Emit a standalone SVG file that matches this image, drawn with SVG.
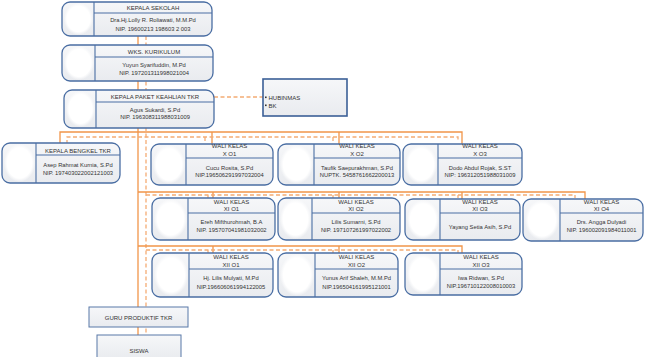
<svg xmlns="http://www.w3.org/2000/svg" width="645" height="357" viewBox="0 0 645 357">
<defs>
<linearGradient id="bg" x1="0" y1="0" x2="0" y2="1"><stop offset="0" stop-color="#f6f7f9"/><stop offset="1" stop-color="#e9ebef"/></linearGradient>
<radialGradient id="ph" cx="0.5" cy="0.5" r="0.5"><stop offset="0.8" stop-color="#ffffff"/><stop offset="1" stop-color="#ffffff" stop-opacity="0"/></radialGradient>
<style>
.box{fill:url(#bg);stroke:#4a6ea3;stroke-width:1.3}
.ph{fill:url(#ph)}
.dv{stroke:#4a6ea3;stroke-width:1.1}
.sq{fill:url(#bg);stroke:#5878a8;stroke-width:1}
.hb{fill:url(#bg);stroke:#3b5f97;stroke-width:1.6}
text{font-family:"Liberation Sans",Arial,sans-serif;fill:#333;text-anchor:middle}
.h{font-size:6px}
.t{font-size:5.8px}
.s{stroke:#f19549;stroke-width:1.3;fill:none}
.d{stroke:#f4ac74;stroke-width:1.3;fill:none;stroke-dasharray:4 2.5}
</style>
</defs>
<g id="connectors">
<path class="s" d="M138,36V335"/>
<path class="d" d="M146,36V335"/>
<path class="d" d="M214,97H263"/>
<path class="s" d="M60,144V132H462V144M212,132V144M339,132V144"/>
<path class="d" d="M67,144V137H458V141M205,137V141M333,137V141"/>
<path class="s" d="M138,192H585V199M213,192V198M339,192V198M462,192V199"/>
<path class="d" d="M146,195H575V198M208,195V198M333,195V198M458,195V198"/>
<path class="s" d="M138,246H462V253M213,246V253M339,246V253"/>
<path class="d" d="M146,250H458V253M208,250V253M333,250V253"/>
</g>
<g id="kepala-sekolah">
<rect class="box" x="62" y="2" width="150" height="34" rx="8"/>
<rect class="ph" x="64" y="3" width="29" height="32" rx="12"/>
<line class="dv" x1="94" y1="2" x2="94" y2="36"/><line class="dv" x1="94" y1="13" x2="212" y2="13"/>
<text class="h" x="153" y="9.5">KEPALA SEKOLAH</text>
<text class="t" x="153" y="22">Dra.Hj.Lolly R. Roliawati, M.M.Pd</text>
<text class="t" x="153" y="31">NIP. 19600213 198603 2 003</text>
</g>
<g id="wks-kurikulum">
<rect class="box" x="62" y="45" width="151" height="36" rx="8"/>
<rect class="ph" x="64" y="46" width="30" height="34" rx="12"/>
<line class="dv" x1="95" y1="45" x2="95" y2="81"/><line class="dv" x1="95" y1="57" x2="213" y2="57"/>
<text class="h" x="154" y="54">WKS. KURIKULUM</text>
<text class="t" x="154" y="67">Yuyun Syarifuddin, M.Pd</text>
<text class="t" x="154" y="75">NIP. 197201311998021004</text>
</g>
<g id="kepala-paket">
<rect class="box" x="64" y="90" width="150" height="38" rx="8"/>
<rect class="ph" x="66" y="91" width="29" height="36" rx="12"/>
<line class="dv" x1="96" y1="90" x2="96" y2="128"/><line class="dv" x1="96" y1="102" x2="214" y2="102"/>
<text class="h" x="155" y="99">KEPALA PAKET KEAHLIAN TKR</text>
<text class="t" x="155" y="112">Agus Sukardi, S.Pd</text>
<text class="t" x="155" y="119">NIP. 196308311988031009</text>
</g>
<g id="hubinmas">
<rect class="hb" x="263" y="79" width="84" height="37"/>
<rect x="265" y="96.5" width="1.6" height="1.6" fill="#333"/>
<rect x="265" y="104.5" width="1.6" height="1.6" fill="#333"/>
<text class="h" x="268.5" y="99.5" style="text-anchor:start">HUBINMAS</text>
<text class="h" x="268.5" y="107.5" style="text-anchor:start">BK</text>
</g>
<g id="kepala-bengkel">
<rect class="box" x="2" y="143" width="118" height="40" rx="8"/>
<rect class="ph" x="4" y="144" width="31" height="38" rx="13"/>
<line class="dv" x1="36" y1="143" x2="36" y2="183"/><line class="dv" x1="36" y1="155" x2="120" y2="155"/>
<text class="h" x="78" y="153">KEPALA BENGKEL TKR</text>
<text class="t" x="78" y="167">Asep Rahmat Kurnia, S.Pd</text>
<text class="t" x="78" y="175">NIP. 197403022002121003</text>
</g>
<g id="wali-x-o1">
<rect class="box" x="151" y="144" width="122" height="41" rx="8"/>
<rect class="ph" x="153" y="145" width="32" height="39" rx="14"/>
<line class="dv" x1="186" y1="144" x2="186" y2="185"/><line class="dv" x1="186" y1="158" x2="273" y2="158"/>
<text class="h" x="229.5" y="148">WALI KELAS</text><text class="h" x="229.5" y="156">X O1</text>
<text class="t" x="229.5" y="170">Cucu Rosita, S.Pd</text>
<text class="t" x="229.5" y="177">NIP.196506291997032004</text>
</g>
<g id="wali-x-o2">
<rect class="box" x="278" y="144" width="122" height="41" rx="8"/>
<rect class="ph" x="280" y="145" width="33" height="39" rx="14"/>
<line class="dv" x1="314" y1="144" x2="314" y2="185"/><line class="dv" x1="314" y1="158" x2="400" y2="158"/>
<text class="h" x="357" y="148">WALI KELAS</text><text class="h" x="357" y="156">X O2</text>
<text class="t" x="357" y="170">Taufik Saepurakhman, S.Pd</text>
<text class="t" x="357" y="177">NUPTK. 5458761662200013</text>
</g>
<g id="wali-x-o3">
<rect class="box" x="403" y="144" width="119" height="41" rx="8"/>
<rect class="ph" x="405" y="145" width="32" height="39" rx="14"/>
<line class="dv" x1="438" y1="144" x2="438" y2="185"/><line class="dv" x1="438" y1="158" x2="522" y2="158"/>
<text class="h" x="480" y="148">WALI KELAS</text><text class="h" x="480" y="156">X O3</text>
<text class="t" x="480" y="170">Dodo Abdul Rojak, S.ST</text>
<text class="t" x="480" y="177">NIP: 196312051988031009</text>
</g>
<g id="wali-xi-o1">
<rect class="box" x="152" y="198" width="123" height="42" rx="8"/>
<rect class="ph" x="154" y="199" width="33" height="40" rx="14"/>
<line class="dv" x1="188" y1="198" x2="188" y2="240"/><line class="dv" x1="188" y1="213" x2="275" y2="213"/>
<text class="h" x="231.5" y="204">WALI KELAS</text><text class="h" x="231.5" y="211">XI O1</text>
<text class="t" x="231.5" y="224">Ereh Mifthurohmah, B.A</text>
<text class="t" x="231.5" y="232">NIP. 195707041981032002</text>
</g>
<g id="wali-xi-o2">
<rect class="box" x="278" y="198" width="122" height="42" rx="8"/>
<rect class="ph" x="280" y="199" width="31" height="40" rx="13"/>
<line class="dv" x1="312" y1="198" x2="312" y2="240"/><line class="dv" x1="312" y1="213" x2="400" y2="213"/>
<text class="h" x="356" y="204">WALI KELAS</text><text class="h" x="356" y="211">XI O2</text>
<text class="t" x="356" y="224">Lilis Sumarni, S.Pd</text>
<text class="t" x="356" y="232">NIP. 197107261997022002</text>
</g>
<g id="wali-xi-o3">
<rect class="box" x="405" y="199" width="115" height="41" rx="8"/>
<rect class="ph" x="407" y="200" width="32" height="39" rx="14"/>
<line class="dv" x1="440" y1="199" x2="440" y2="240"/><line class="dv" x1="440" y1="213" x2="520" y2="213"/>
<text class="h" x="480" y="204">WALI KELAS</text><text class="h" x="480" y="211">XI O3</text>
<text class="t" x="480" y="229">Yayang Setia Asih, S.Pd</text>
</g>
<g id="wali-xi-o4">
<rect class="box" x="523" y="199" width="120" height="42" rx="8"/>
<rect class="ph" x="525" y="200" width="34" height="40" rx="14"/>
<line class="dv" x1="560" y1="199" x2="560" y2="241"/><line class="dv" x1="560" y1="213" x2="643" y2="213"/>
<text class="h" x="601.5" y="204">WALI KELAS</text><text class="h" x="601.5" y="211">XI O4</text>
<text class="t" x="601.5" y="224">Drs. Angga Dulyadi</text>
<text class="t" x="601.5" y="232">NIP. 196002091984011001</text>
</g>
<g id="wali-xii-o1">
<rect class="box" x="152" y="253" width="121" height="44" rx="8"/>
<rect class="ph" x="154" y="254" width="34" height="42" rx="14"/>
<line class="dv" x1="189" y1="253" x2="189" y2="297"/><line class="dv" x1="189" y1="269" x2="273" y2="269"/>
<text class="h" x="231" y="259">WALI KELAS</text><text class="h" x="231" y="267">XII O1</text>
<text class="t" x="231" y="280">Hj. Lilis Mulyati, M.Pd</text>
<text class="t" x="231" y="289">NIP.196606061994122005</text>
</g>
<g id="wali-xii-o2">
<rect class="box" x="278" y="253" width="120" height="44" rx="8"/>
<rect class="ph" x="280" y="254" width="34" height="42" rx="14"/>
<line class="dv" x1="315" y1="253" x2="315" y2="297"/><line class="dv" x1="315" y1="269" x2="398" y2="269"/>
<text class="h" x="356.5" y="259">WALI KELAS</text><text class="h" x="356.5" y="267">XII O2</text>
<text class="t" x="356.5" y="280">Yunus Arif Shaleh, M.M.Pd</text>
<text class="t" x="356.5" y="289">NIP.196504161995121001</text>
</g>
<g id="wali-xii-o3">
<rect class="box" x="405" y="253" width="117" height="42" rx="8"/>
<rect class="ph" x="407" y="254" width="32" height="40" rx="14"/>
<line class="dv" x1="440" y1="253" x2="440" y2="295"/><line class="dv" x1="440" y1="269" x2="522" y2="269"/>
<text class="h" x="481" y="259">WALI KELAS</text><text class="h" x="481" y="267">XII O3</text>
<text class="t" x="481" y="280">Iwa Ridwan, S.Pd</text>
<text class="t" x="481" y="288">NIP.196710122008010003</text>
</g>
<g id="guru-produktif">
<rect class="sq" x="89" y="307" width="99" height="20"/>
<text class="h" x="138.5" y="319.5">GURU PRODUKTIF TKR</text>
</g>
<g id="siswa">
<rect class="sq" x="97" y="335" width="84" height="24"/>
<text class="h" x="139" y="353">SISWA</text>
</g>
</svg>
